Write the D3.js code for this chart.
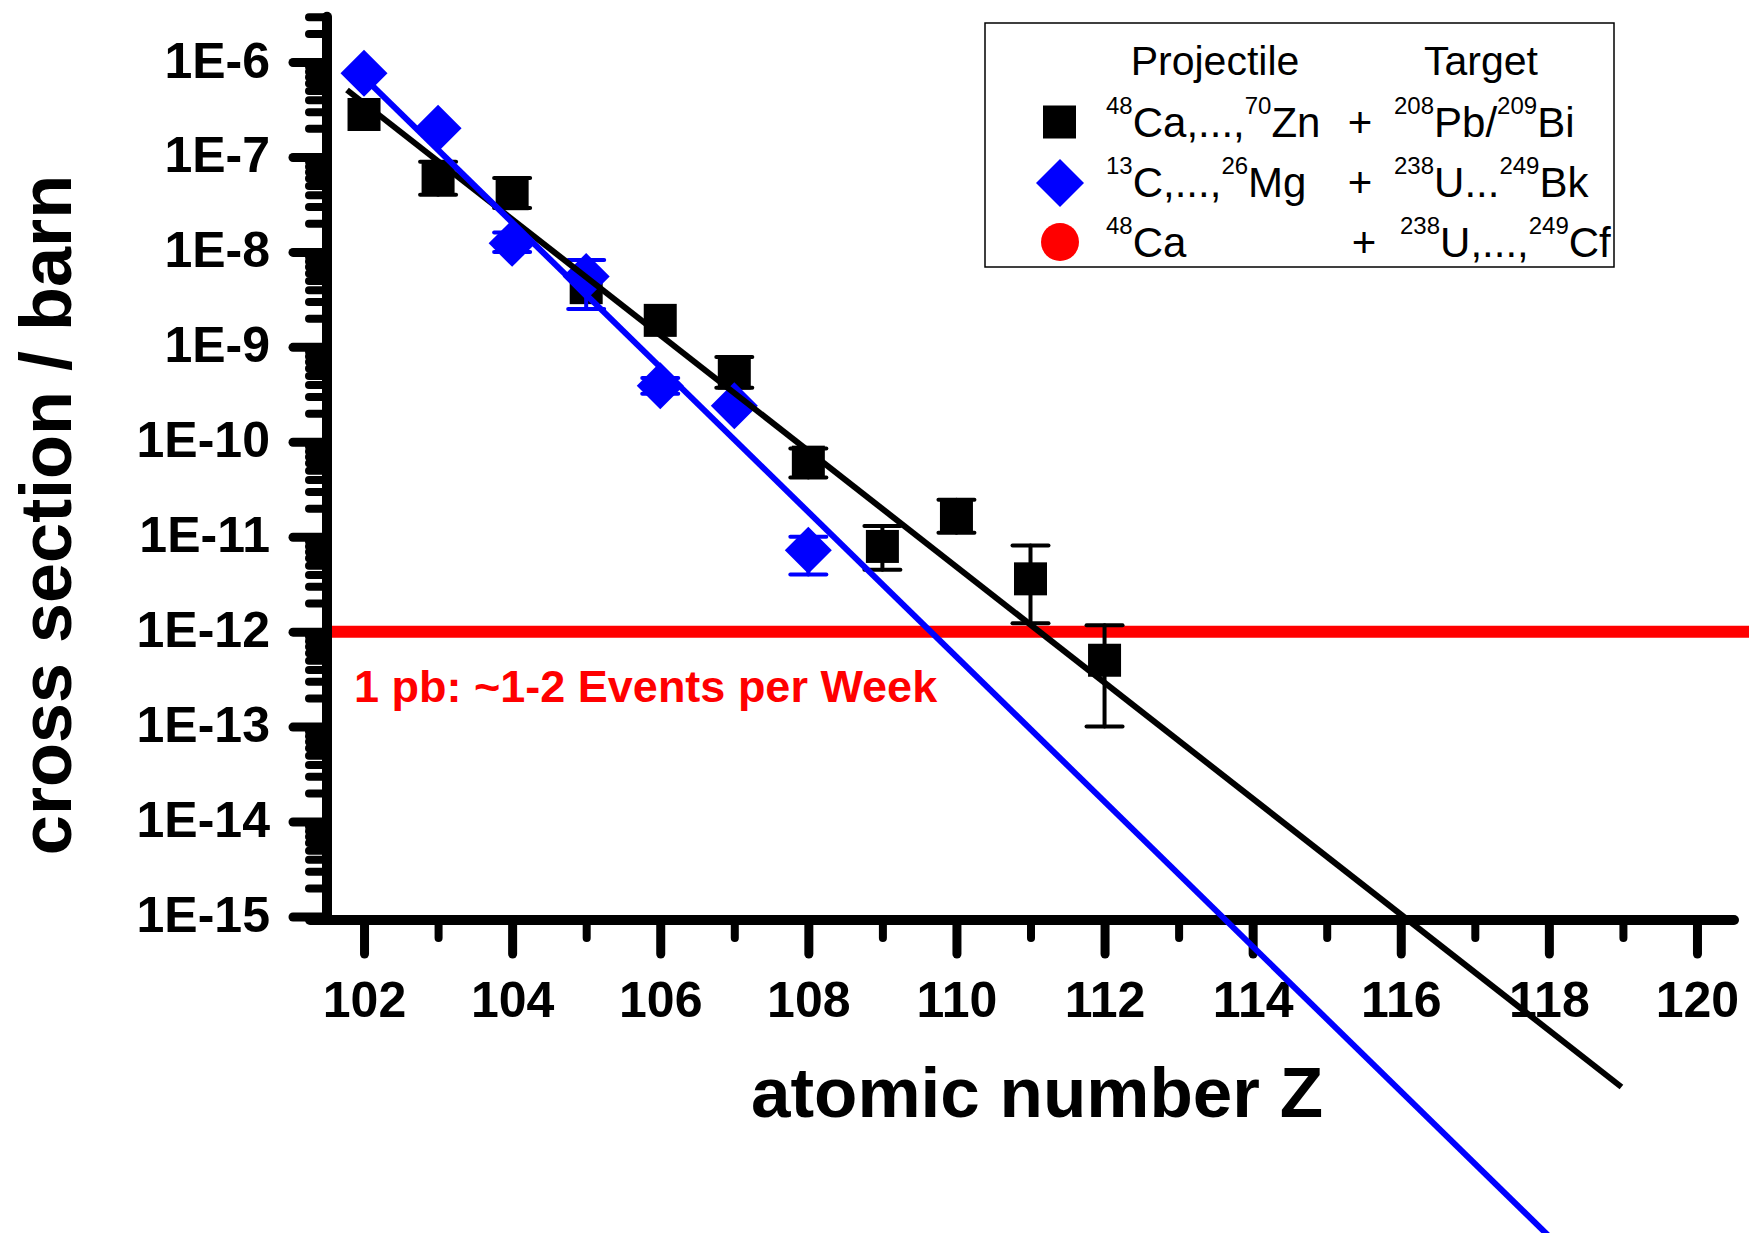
<!DOCTYPE html>
<html>
<head>
<meta charset="utf-8">
<script src="https://cdn.jsdelivr.net/npm/d3@7"></script>
<style>
body { margin: 0; background: #fff; }
svg { display: block; font-family: 'Liberation Sans', Arial, sans-serif; }
</style>
</head>
<body>
<div id="chart"></div>
<script>
var width = 1749,
    height = 1233;

// 48Ca,...,70Zn + 208Pb/209Bi (black squares)
var blackZ = [102, 103, 104, 105, 106, 107, 108, 109, 110, 111, 112];
var blackSigma = [2.8e-7, 6.0e-8, 4.1e-8, 4.2e-9, 1.9e-9, 5.3e-10, 6.1e-11, 7.9e-12, 1.67e-11, 3.6e-12, 5.0e-13];
var blackLow = [null, 4.0e-8, 2.9e-8, null, null, 3.7e-10, 4.2e-11, 4.5e-12, 1.1e-11, 1.23e-12, 1.0e-13];
var blackHigh = [null, 8.9e-8, 6.0e-8, null, null, 7.8e-10, 8.5e-11, 1.3e-11, 2.45e-11, 8.1e-12, 1.17e-12];

// 13C,...,26Mg + 238U...249Bk (blue diamonds)
var blueZ = [102, 103, 104, 105, 106, 107, 108];
var blueSigma = [7.6e-7, 2.0e-7, 1.23e-8, 5.5e-9, 3.9e-10, 2.4e-10, 7.2e-12];
var blueLow = [null, null, 1.0e-8, 2.5e-9, 3.2e-10, null, 4.0e-12];
var blueHigh = [null, null, 1.6e-8, 8.2e-9, 4.7e-10, null, 1.0e-11];

// exponential fits (end points)
var blackFitZ = [101.77, 118.98];
var blackFitSigma = [5.07e-7, 1.6e-17];
var blueFitZ = [101.95, 118.0];
var blueFitSigma = [7.5e-7, 4.3e-19];

// 1 pb limit
var limitSigma = 1e-12;
var limitLabel = '1 pb: ~1-2 Events per Week';

var xMajorTicks = [102, 104, 106, 108, 110, 112, 114, 116, 118, 120];
var xMinorTicks = [103, 105, 107, 109, 111, 113, 115, 117, 119];
var yMajorTicks = [1e-15, 1e-14, 1e-13, 1e-12, 1e-11, 1e-10, 1e-9, 1e-8, 1e-7, 1e-6];
var yMinorTicks = [];
for (var e = -15; e <= -7; e++) {
    for (var k = 2; k <= 9; k++) yMinorTicks.push(k * Math.pow(10, e));
}
yMinorTicks.push(2e-6, 3e-6);

var legendHeader = ['Projectile', 'Target'];
var legendProjectile = [
    [['48', 1], ['Ca,...,', 0], ['70', 1], ['Zn', 0]],
    [['13', 1], ['C,...,', 0], ['26', 1], ['Mg', 0]],
    [['48', 1], ['Ca', 0]]
];
var legendTarget = [
    [['208', 1], ['Pb/', 0], ['209', 1], ['Bi', 0]],
    [['238', 1], ['U...', 0], ['249', 1], ['Bk', 0]],
    [['238', 1], ['U,...,', 0], ['249', 1], ['Cf', 0]]
];

var svg = d3.select('#chart')
    .append('svg')
    .attr('width', width)
    .attr('height', height);

svg.append('rect').attr('width', width).attr('height', height).attr('fill', '#fff');

var x = d3.scaleLinear().domain([101.5, 120.5]).range([327, 1734]);
var y = d3.scaleLog().domain([1e-15, 1e-6]).range([916.5, 62]);
var xAxisY = 920;

function styleAxis(g, w) {
    g.attr('font-family', null).attr('font-size', null);
    g.select('.domain').remove();
    g.selectAll('.tick line').attr('stroke', '#000').attr('stroke-width', w).attr('stroke-linecap', 'round');
}

// y axis
svg.append('g')
    .attr('transform', 'translate(327,0)')
    .call(d3.axisLeft(y).tickValues(yMinorTicks).tickSize(18).tickFormat(''))
    .call(g => styleAxis(g, 8));

svg.append('g')
    .attr('transform', 'translate(327,0)')
    .call(d3.axisLeft(y).tickValues(yMajorTicks).tickSize(34).tickPadding(23)
        .tickFormat(d => '1E' + Math.round(Math.log10(d))))
    .call(g => styleAxis(g, 9))
    .call(g => g.selectAll('text')
        .attr('dy', '0.3em')
        .style('font-size', '50px')
        .style('font-weight', 'bold')
        .attr('fill', '#000'));

// x axis
svg.append('g')
    .attr('transform', 'translate(0,' + xAxisY + ')')
    .call(d3.axisBottom(x).tickValues(xMinorTicks).tickSize(18).tickFormat(''))
    .call(g => styleAxis(g, 8));

svg.append('g')
    .attr('transform', 'translate(0,' + xAxisY + ')')
    .call(d3.axisBottom(x).tickValues(xMajorTicks).tickSize(34).tickFormat(d => d))
    .call(g => styleAxis(g, 9))
    .call(g => g.selectAll('text')
        .attr('y', 61.5)
        .attr('dy', '0.71em')
        .style('font-size', '50px')
        .style('font-weight', 'bold')
        .attr('fill', '#000'));

// axis lines
svg.append('line')
    .attr('x1', 327).attr('x2', 327)
    .attr('y1', y(3e-6)).attr('y2', xAxisY)
    .attr('stroke', '#000').attr('stroke-width', 10).attr('stroke-linecap', 'round');
svg.append('line')
    .attr('x1', 310).attr('x2', x(120.5))
    .attr('y1', xAxisY).attr('y2', xAxisY)
    .attr('stroke', '#000').attr('stroke-width', 10).attr('stroke-linecap', 'round');

// axis titles
svg.append('text')
    .attr('x', 1037).attr('y', 1117)
    .attr('text-anchor', 'middle')
    .style('font-size', '71px').style('font-weight', 'bold')
    .text('atomic number Z');

svg.append('text')
    .attr('transform', 'translate(71,515) rotate(-90)')
    .attr('text-anchor', 'middle')
    .style('font-size', '72px').style('font-weight', 'bold')
    .text('cross section / barn');

// 1 pb line
svg.append('line')
    .attr('x1', x(101.5) + 5).attr('x2', width)
    .attr('y1', y(limitSigma)).attr('y2', y(limitSigma))
    .attr('stroke', '#ff0000').attr('stroke-width', 12);

svg.append('text')
    .attr('x', 354).attr('y', 702)
    .attr('fill', '#ff0000')
    .style('font-size', '45px').style('font-weight', 'bold')
    .text(limitLabel);

// data with error bars
function errorBars(zs, low, high, color) {
    var pts = zs.map((z, i) => ({z: z, lo: low[i], hi: high[i]})).filter(d => d.lo !== null);
    var g = svg.append('g')
        .attr('stroke', color).attr('stroke-width', 4).attr('stroke-linecap', 'round');
    g.selectAll('.bar').data(pts).enter().append('line')
        .attr('x1', d => x(d.z)).attr('x2', d => x(d.z))
        .attr('y1', d => y(d.lo)).attr('y2', d => y(d.hi));
    g.selectAll('.capLo').data(pts).enter().append('line')
        .attr('x1', d => x(d.z) - 18).attr('x2', d => x(d.z) + 18)
        .attr('y1', d => y(d.lo)).attr('y2', d => y(d.lo));
    g.selectAll('.capHi').data(pts).enter().append('line')
        .attr('x1', d => x(d.z) - 18).attr('x2', d => x(d.z) + 18)
        .attr('y1', d => y(d.hi)).attr('y2', d => y(d.hi));
}

var blackPts = blackZ.map((z, i) => ({z: z, s: blackSigma[i]}));
var bluePts = blueZ.map((z, i) => ({z: z, s: blueSigma[i]}));

errorBars(blackZ, blackLow, blackHigh, '#000');
svg.append('g').selectAll('rect')
    .data(blackPts)
    .enter()
    .append('rect')
    .attr('x', d => x(d.z) - 16.5)
    .attr('y', d => y(d.s) - 16.5)
    .attr('width', 33).attr('height', 33)
    .attr('fill', '#000');

errorBars(blueZ, blueLow, blueHigh, '#0000ff');
var diamond = 'M0,-23.5L23.5,0L0,23.5L-23.5,0Z';
svg.append('g').selectAll('path')
    .data(bluePts)
    .enter()
    .append('path')
    .attr('d', diamond)
    .attr('transform', d => 'translate(' + x(d.z) + ',' + y(d.s) + ')')
    .attr('fill', '#0000ff');

// fit lines
var fitLine = d3.line().x(d => x(d[0])).y(d => y(d[1]));
svg.append('path')
    .attr('d', fitLine(blackFitZ.map((z, i) => [z, blackFitSigma[i]])))
    .attr('fill', 'none').attr('stroke', '#000').attr('stroke-width', 6);
svg.append('path')
    .attr('d', fitLine(blueFitZ.map((z, i) => [z, blueFitSigma[i]])))
    .attr('fill', 'none').attr('stroke', '#0000ff').attr('stroke-width', 6);

// legend
var legend = svg.append('g');
legend.append('rect')
    .attr('x', 985).attr('y', 23)
    .attr('width', 629).attr('height', 244)
    .attr('fill', 'none').attr('stroke', '#000').attr('stroke-width', 1.5);

legend.append('text').attr('x', 1215).attr('y', 75).attr('text-anchor', 'middle')
    .style('font-size', '41px').text(legendHeader[0]);
legend.append('text').attr('x', 1481).attr('y', 75).attr('text-anchor', 'middle')
    .style('font-size', '41px').text(legendHeader[1]);

function richText(px, py, parts) {
    var t = legend.append('text').attr('x', px).attr('y', py).style('font-size', '42px');
    var raised = false;
    parts.forEach(p => {
        var s = t.append('tspan').text(p[0]);
        if (p[1] && !raised) { s.attr('dy', -23).style('font-size', '24px'); raised = true; }
        else if (p[1]) { s.style('font-size', '24px'); }
        else if (raised) { s.attr('dy', 23); raised = false; }
    });
}

var rowY = [137, 197, 257];
var plusX = [1360, 1360, 1364];
var targetX = [1394, 1394, 1400];
rowY.forEach((ry, i) => {
    richText(1106, ry, legendProjectile[i]);
    legend.append('text').attr('x', plusX[i]).attr('y', ry).attr('text-anchor', 'middle')
        .style('font-size', '42px').text('+');
    richText(targetX[i], ry, legendTarget[i]);
});

legend.append('rect').attr('x', 1043).attr('y', 105.5).attr('width', 33).attr('height', 33).attr('fill', '#000');
legend.append('path').attr('d', 'M0,-24L24,0L0,24L-24,0Z')
    .attr('transform', 'translate(1060,183)').attr('fill', '#0000ff');
legend.append('circle').attr('cx', 1060).attr('cy', 242).attr('r', 19).attr('fill', '#ff0000');
</script>
</body>
</html>
